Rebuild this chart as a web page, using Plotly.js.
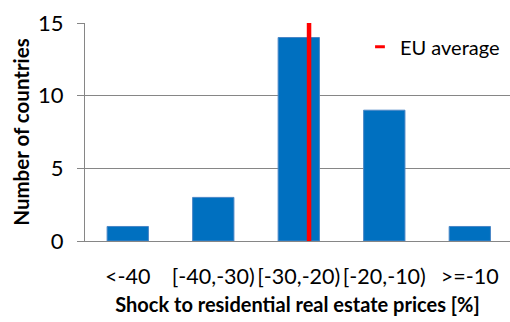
<!DOCTYPE html>
<html>
<head>
<meta charset="utf-8">
<script src="https://cdn.plot.ly/plotly-3.0.1.min.js"></script>
<style>
  html, body { margin: 0; padding: 0; background: #fff; }
  #chart { width: 510px; height: 322px; }
</style>
</head>
<body>
<div id="chart"></div>
<script>
// Distribution of countries by size of the residential real estate price shock
const binLabels = ['<-40', '[-40,-30)', '[-30,-20)', '[-20,-10)', '>=-10'];
const binCenters = [-45, -35, -25, -15, -5];   // shock (%) at the middle of each bin
const countryCounts = [1, 3, 14, 9, 1];
const euAverageShock = -23.8;                   // EU average shock (%)
const countRange = [0, 15];

const gridGrey = '#868686';
const font = { family: 'Lato, "Open Sans", sans-serif', size: 20, color: '#000' };

const traces = [
  {
    type: 'bar',
    x: binCenters,
    y: countryCounts,
    width: 4.83,
    marker: { color: '#0070C0', line: { color: '#4a86c6', width: 1 } },
    hoverinfo: 'x+y',
    showlegend: false
  },
  {
    type: 'scatter',
    mode: 'lines',
    x: [euAverageShock, euAverageShock],
    y: countRange,
    line: { color: '#FF0000', width: 4.5 },
    legendgroup: 'eu',
    showlegend: false
  },
  {
    // legend key for the EU average line
    type: 'scatter',
    mode: 'markers',
    x: [null],
    y: [null],
    name: 'EU average',
    legendgroup: 'eu',
    marker: { symbol: 'line-ew-open', size: 7, color: '#FF0000', line: { color: '#FF0000', width: 3 } }
  }
];

const layout = {
  width: 510,
  height: 322,
  margin: { l: 85, r: 0, t: 23, b: 81 },
  paper_bgcolor: '#fff',
  plot_bgcolor: '#fff',
  font: font,
  showlegend: true,
  legend: {
    x: 0.647, y: 0.98, xanchor: 'left', yanchor: 'top',
    bgcolor: 'rgba(0,0,0,0)',
    font: { family: font.family, size: 20, color: '#000' }
  },
  xaxis: {
    type: 'linear',
    range: [-50, -0.3],
    tickvals: binCenters,
    ticktext: binLabels,
    tickangle: 0,
    ticks: '',
    ticklabelstandoff: 16,
    showgrid: false,
    zeroline: false,
    showline: true,
    linecolor: gridGrey,
    linewidth: 1,
    tickfont: { size: 21.5 },
    title: {
      text: 'Shock to residential real estate prices [%]',
      font: { family: font.family, size: 20, weight: 'bold', color: '#000' },
      standoff: 10
    },
    fixedrange: true
  },
  yaxis: {
    range: countRange,
    tickvals: [0, 5, 10, 15],
    ticks: 'outside',
    ticklen: 7,
    tickcolor: gridGrey,
    ticklabelstandoff: 9,
    showgrid: true,
    gridcolor: gridGrey,
    gridwidth: 1,
    zeroline: false,
    showline: true,
    linecolor: gridGrey,
    linewidth: 1,
    tickfont: { size: 22 },
    title: {
      text: 'Number of countries',
      font: { family: font.family, size: 20.5, weight: 'bold', color: '#000' },
      standoff: 2
    },
    fixedrange: true
  }
};

Plotly.newPlot('chart', traces, layout, { displayModeBar: false, staticPlot: true });
</script>
</body>
</html>
